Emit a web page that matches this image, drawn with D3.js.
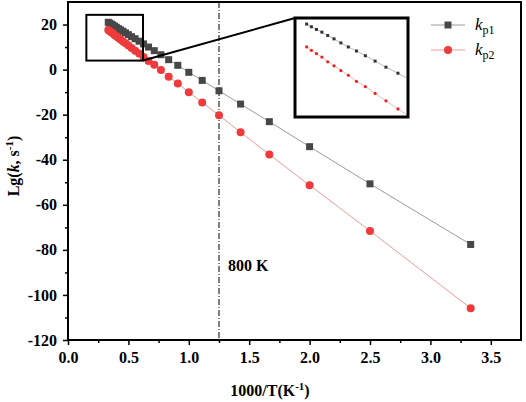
<!DOCTYPE html>
<html>
<head>
<meta charset="utf-8">
<script src="https://cdn.jsdelivr.net/npm/d3@7"></script>
<style>
  body { margin: 0; background: #fff; }
  svg { display: block; }
  text { font-family: "Liberation Serif", "Times New Roman", serif; }
</style>
</head>
<body>
<svg id="chart" width="526" height="402"></svg>
<script>
// temperatures (K), x axis is 1000/T
const temps = [3000, 2900, 2800, 2700, 2600, 2500, 2400, 2300, 2200, 2100, 2000, 1900, 1800,
  1700, 1600, 1500, 1400, 1300, 1200, 1100, 1000, 900, 800, 700, 600, 500, 400, 300];

// lg k values
const kp1 = [21.0, 20.6, 20.2, 19.8, 19.3, 18.8, 18.2, 17.6, 17.0, 16.3, 15.5, 14.6, 13.7,
  12.6, 11.4, 10.0, 8.4, 6.6, 4.4, 1.9, -1.2, -4.8, -9.4, -15.3, -23.1, -34.2, -50.7, -77.6];
const kp2 = [17.6, 17.1, 16.6, 16.1, 15.4, 14.8, 14.1, 13.4, 12.5, 11.7, 10.7, 9.6, 8.4,
  7.1, 5.6, 3.8, 2.2, -0.2, -3.2, -6.2, -10.0, -14.6, -20.3, -27.8, -37.7, -51.3, -71.6, -105.9];

const xTicks = [0, 0.5, 1.0, 1.5, 2.0, 2.5, 3.0, 3.5];
const yTicks = [-120, -100, -80, -60, -40, -20, 0, 20];
const insetCount = 13; // 3000 K .. 1800 K in the zoom box

const series1 = temps.map((t, i) => ({ x: 1000 / t, y: kp1[i] }));
const series2 = temps.map((t, i) => ({ x: 1000 / t, y: kp2[i] }));

const svg = d3.select('#chart');
const pl = 68, pr = 521, pt = 2, pb = 340;

const x = d3.scaleLinear().domain([0, 3.75]).range([pl, pr]);
const y = d3.scaleLinear().domain([-120, 30]).range([pb, pt]);

// minor ticks
svg.append('g')
  .attr('transform', `translate(0,${pb})`)
  .call(d3.axisBottom(x).tickValues(d3.range(0.25, 3.75, 0.5)).tickSize(3).tickFormat(''))
  .call(g => g.select('.domain').remove())
  .selectAll('line').attr('stroke-width', 1.5);
svg.append('g')
  .attr('transform', `translate(${pl},0)`)
  .call(d3.axisLeft(y).tickValues(d3.range(-110, 30, 20)).tickSize(3).tickFormat(''))
  .call(g => g.select('.domain').remove())
  .selectAll('line').attr('stroke-width', 1.5);

// major ticks
const xAxis = svg.append('g')
  .attr('transform', `translate(0,${pb})`)
  .call(d3.axisBottom(x).tickValues(xTicks).tickSize(5).tickPadding(7).tickFormat(d3.format('.1f')));
const yAxis = svg.append('g')
  .attr('transform', `translate(${pl},0)`)
  .call(d3.axisLeft(y).tickValues(yTicks).tickSize(5).tickPadding(6).tickFormat(d => d));
[xAxis, yAxis].forEach(a => {
  a.select('.domain').remove();
  a.selectAll('line').attr('stroke-width', 1.5);
  a.selectAll('text').attr('font-size', 16).attr('font-weight', 'bold')
    .attr('font-family', '"Liberation Serif", serif').attr('fill', '#000');
});

// frame
svg.append('rect')
  .attr('x', pl).attr('y', pt)
  .attr('width', pr - pl).attr('height', pb - pt)
  .attr('fill', 'none').attr('stroke', '#000').attr('stroke-width', 2);

// 800 K reference line
svg.append('line')
  .attr('x1', x(1.25)).attr('x2', x(1.25))
  .attr('y1', pt).attr('y2', pb)
  .attr('stroke', '#000').attr('stroke-width', 1)
  .attr('stroke-dasharray', '6,2,1,2');
svg.append('text')
  .attr('x', 228).attr('y', 271)
  .attr('font-size', 16).attr('font-weight', 'bold')
  .text('800 K');

const line = d3.line().x(d => x(d.x)).y(d => y(d.y));

svg.append('path').datum(series1)
  .attr('d', line).attr('fill', 'none').attr('stroke', '#9a9a9a').attr('stroke-width', 1);
svg.append('path').datum(series2)
  .attr('d', line).attr('fill', 'none').attr('stroke', '#f39a9a').attr('stroke-width', 1);

svg.append('g').selectAll('rect')
  .data(series1).join('rect')
  .attr('x', d => x(d.x) - 3.5).attr('y', d => y(d.y) - 3.5)
  .attr('width', 7).attr('height', 7)
  .attr('fill', '#474747');
svg.append('g').selectAll('circle')
  .data(series2).join('circle')
  .attr('cx', d => x(d.x)).attr('cy', d => y(d.y))
  .attr('r', 4).attr('fill', '#ee3a3a');

// zoom box on the cluster
const zx0 = 0.152, zx1 = 0.621, zy0 = 24.3, zy1 = 4.0;
svg.append('rect')
  .attr('x', x(zx0)).attr('y', y(zy0))
  .attr('width', x(zx1) - x(zx0)).attr('height', y(zy1) - y(zy0))
  .attr('fill', 'none').attr('stroke', '#000').attr('stroke-width', 2);

// inset
const ix0 = 295, ix1 = 408, iy0 = 18, iy1 = 117;
svg.append('line')
  .attr('x1', x(zx1)).attr('y1', y(zy1))
  .attr('x2', ix0).attr('y2', iy0)
  .attr('stroke', '#000').attr('stroke-width', 2);

const ixs = d3.scaleLinear().domain([0.305, 0.58]).range([ix0, ix1]);
const iys = d3.scaleLinear().domain([21.9, 7.2]).range([iy0, iy1]);
svg.append('rect')
  .attr('x', ix0).attr('y', iy0).attr('width', ix1 - ix0).attr('height', iy1 - iy0)
  .attr('fill', '#fff');
svg.append('clipPath').attr('id', 'insetClip')
  .append('rect').attr('x', ix0 + 1.5).attr('y', iy0 + 1.5)
  .attr('width', ix1 - ix0 - 3).attr('height', iy1 - iy0 - 3);
const inset = svg.append('g').attr('clip-path', 'url(#insetClip)');
const iline = d3.line().x(d => ixs(d.x)).y(d => iys(d.y));
inset.append('path').datum(series1.slice(0, insetCount + 1))
  .attr('d', iline).attr('fill', 'none').attr('stroke', '#aaa').attr('stroke-width', 0.8);
inset.append('path').datum(series2.slice(0, insetCount + 1))
  .attr('d', iline).attr('fill', 'none').attr('stroke', '#f5a5a5').attr('stroke-width', 0.8);
inset.selectAll('rect.p1')
  .data(series1.slice(0, insetCount)).join('rect').attr('class', 'p1')
  .attr('x', d => ixs(d.x) - 1.5).attr('y', d => iys(d.y) - 1.5)
  .attr('width', 3).attr('height', 3).attr('fill', '#333');
inset.selectAll('circle.p2')
  .data(series2.slice(0, insetCount)).join('circle').attr('class', 'p2')
  .attr('cx', d => ixs(d.x)).attr('cy', d => iys(d.y))
  .attr('r', 1.6).attr('fill', '#f02020');
svg.append('rect')
  .attr('x', ix0).attr('y', iy0).attr('width', ix1 - ix0).attr('height', iy1 - iy0)
  .attr('fill', 'none').attr('stroke', '#000').attr('stroke-width', 3);

// legend
const legend = svg.append('g');
[
  { y: 25, name: 'p1', stroke: '#9a9a9a', fill: '#474747', shape: 'square' },
  { y: 50, name: 'p2', stroke: '#f39a9a', fill: '#ee3a3a', shape: 'circle' }
].forEach(item => {
  legend.append('line')
    .attr('x1', 431).attr('x2', 465).attr('y1', item.y).attr('y2', item.y)
    .attr('stroke', item.stroke).attr('stroke-width', 1);
  if (item.shape === 'square') {
    legend.append('rect').attr('x', 444.5).attr('y', item.y - 3.5)
      .attr('width', 7).attr('height', 7).attr('fill', item.fill);
  } else {
    legend.append('circle').attr('cx', 448).attr('cy', item.y).attr('r', 4).attr('fill', item.fill);
  }
  const t = legend.append('text').attr('x', 475).attr('y', item.y + 5).attr('font-size', 17);
  t.append('tspan').attr('font-style', 'italic').text('k');
  t.append('tspan').attr('font-size', 12).attr('dy', 4).text(item.name);
});

// axis titles
const xt = svg.append('text')
  .attr('x', 270).attr('y', 396).attr('text-anchor', 'middle')
  .attr('font-size', 16).attr('font-weight', 'bold');
xt.append('tspan').text('1000/T(K');
xt.append('tspan').attr('font-size', 11).attr('dy', -6).text('-1');
xt.append('tspan').attr('dy', 6).text(')');

const yt = svg.append('text')
  .attr('transform', 'translate(19,166) rotate(-90)')
  .attr('text-anchor', 'middle')
  .attr('font-size', 16).attr('font-weight', 'bold');
yt.append('tspan').text('Lg(');
yt.append('tspan').attr('font-style', 'italic').text('k');
yt.append('tspan').text(', s');
yt.append('tspan').attr('font-size', 11).attr('dy', -6).text('-1');
yt.append('tspan').attr('dy', 6).text(')');
</script>
</body>
</html>
